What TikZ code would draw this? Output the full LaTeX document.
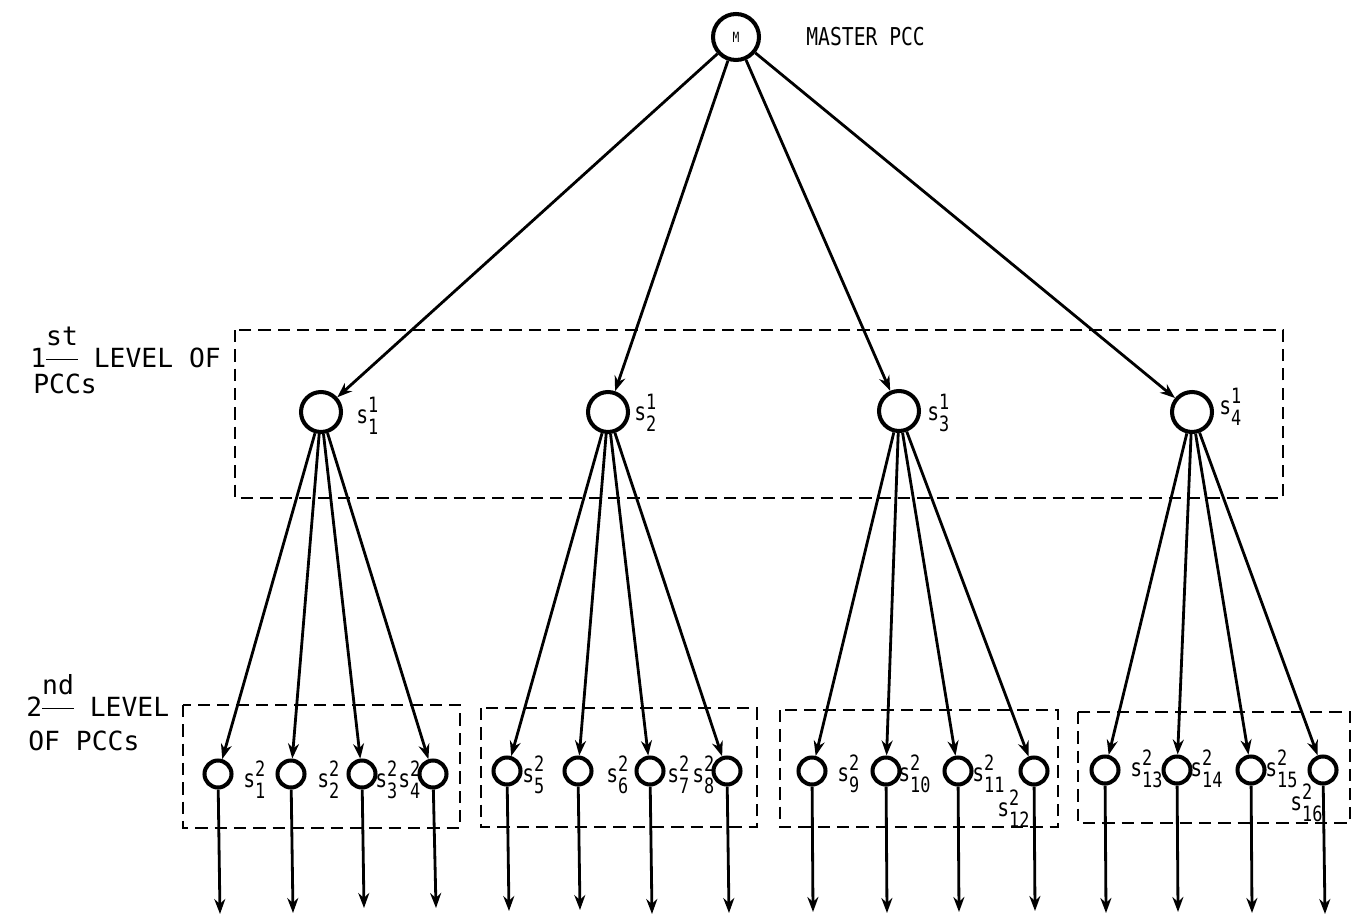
\documentclass[tikz,border=0pt]{standalone}
\usepackage{fontspec}
\setmainfont{DejaVu Sans Mono}[FakeStretch=0.8]
\newfontfamily\widefont{DejaVu Sans Mono}
\usetikzlibrary{arrows.meta}
\newcommand{\digits}{\fontsize{12}{12}\selectfont}
\newcommand{\slab}[2]{s\rlap{\raisebox{6pt}{\digits #1}}\raisebox{-6.5pt}{\digits #2}}
\newcommand{\ordsup}[1]{\raisebox{5.5pt}{\underline{\raisebox{7pt}{#1}}}}
\tikzset{
    pcc/.style={
        draw,
        circle,
        line width=2.3pt,
        inner sep=0pt
    },
    masterpcc/.style={
        pcc,
        minimum size=0.92cm,
        font=\fontsize{8}{8}\selectfont
    },
    firstpcc/.style={
        pcc,
        minimum size=0.8cm
    },
    secondpcc/.style={
        pcc,
        minimum size=0.54cm
    },
    levelbox/.style={
        draw,
        line width=1.5pt,
        dash pattern=on 7pt off 4pt
    },
    link/.style={
        -{Stealth[length=3mm,width=2.2mm]},
        line width=1.6pt
    },
    slabel/.style={
        anchor=base west,
        inner sep=0pt
    },
    sidelabel/.style={
        slabel,
        font=\widefont\fontsize{15}{17}\selectfont
    }
}
\begin{document}
\begin{tikzpicture}[
    x=0.02cm, y=-0.02cm,
    every node/.append style={font=\fontsize{14}{16}\selectfont}
]
    \useasboundingbox (0,0) rectangle (1354,922);

    % master
    \node[masterpcc] (master) at (736,37) {M};
    \node[slabel] (mastertxt) at (806,46) {MASTER PCC};

    % first level
    \draw[levelbox] (235,330) rectangle (1283,498);
    \node[sidelabel] (lvonetxt) at (30,367) {1\ordsup{st} LEVEL OF};
    \node[sidelabel] (lvonepcc) at (33,393) {PCCs};
    \node[firstpcc] (sA) at (321,412) {};
    \node[firstpcc] (sB) at (608,412) {};
    \node[firstpcc] (sC) at (899,411) {};
    \node[firstpcc] (sD) at (1192,412) {};
    \node[slabel] (labA) at (356,423) {\slab{1}{1}};
    \node[slabel] (labB) at (634,420) {\slab{1}{2}};
    \node[slabel] (labC) at (927,420) {\slab{1}{3}};
    \node[slabel] (labD) at (1219,414) {\slab{1}{4}};

    % second level
    \draw[levelbox] (183,705) rectangle (460,828);
    \draw[levelbox] (481,708) rectangle (757,827);
    \draw[levelbox] (780,710) rectangle (1058,827);
    \draw[levelbox] (1078,712) rectangle (1350,823);
    \node[sidelabel] (lvtwotxt) at (26,716) {2\ordsup{nd} LEVEL};
    \node[sidelabel] (lvtwopcc) at (28,750) {OF PCCs};

    \node[secondpcc] (s1) at (218,774) {};
    \node[secondpcc] (s2) at (291,774) {};
    \node[secondpcc] (s3) at (362,774) {};
    \node[secondpcc] (s4) at (433,774) {};
    \node[secondpcc] (s5) at (507,771) {};
    \node[secondpcc] (s6) at (578,771) {};
    \node[secondpcc] (s7) at (650,771) {};
    \node[secondpcc] (s8) at (727,771) {};
    \node[secondpcc] (s9) at (812,771) {};
    \node[secondpcc] (s10) at (886,771) {};
    \node[secondpcc] (s11) at (958,771) {};
    \node[secondpcc] (s12) at (1034,771) {};
    \node[secondpcc] (s13) at (1105,770) {};
    \node[secondpcc] (s14) at (1177,770) {};
    \node[secondpcc] (s15) at (1251,770) {};
    \node[secondpcc] (s16) at (1323,770) {};

    \node[slabel] (lab1) at (243,787) {\slab{2}{1}};
    \node[slabel] (lab2) at (317,787) {\slab{2}{2}};
    \node[slabel] (lab3) at (375,787) {\slab{2}{3}};
    \node[slabel] (lab4) at (398,787) {\slab{2}{4}};
    \node[slabel] (lab5) at (522,782) {\slab{2}{5}};
    \node[slabel] (lab6) at (606,782) {\slab{2}{6}};
    \node[slabel] (lab7) at (667,782) {\slab{2}{7}};
    \node[slabel] (lab8) at (692,782) {\slab{2}{8}};
    \node[slabel] (lab9) at (837,781) {\slab{2}{9}};
    \node[slabel] (lab10) at (898,781) {\slab{2}{10}};
    \node[slabel] (lab11) at (972,781) {\slab{2}{11}};
    \node[slabel] (lab12) at (997,816) {\slab{2}{12}};
    \node[slabel] (lab13) at (1130,776) {\slab{2}{13}};
    \node[slabel] (lab14) at (1190,776) {\slab{2}{14}};
    \node[slabel] (lab15) at (1265,776) {\slab{2}{15}};
    \node[slabel] (lab16) at (1290,810) {\slab{2}{16}};

    % outputs
    \coordinate (o1) at (220,914);
    \coordinate (o2) at (293,913);
    \coordinate (o3) at (364,908);
    \coordinate (o4) at (436,908);
    \coordinate (o5) at (509,911);
    \coordinate (o6) at (580,910);
    \coordinate (o7) at (652,914);
    \coordinate (o8) at (729,913);
    \coordinate (o9) at (813,912);
    \coordinate (o10) at (887,913);
    \coordinate (o11) at (959,912);
    \coordinate (o12) at (1035,911);
    \coordinate (o13) at (1106,913);
    \coordinate (o14) at (1178,912);
    \coordinate (o15) at (1252,913);
    \coordinate (o16) at (1325,914);

    \draw[link] (master) -- (sA);
    \draw[link] (master) -- (sB);
    \draw[link] (master) -- (sC);
    \draw[link] (master) -- (sD);

    \draw[link] (sA) -- (s1);
    \draw[link] (sA) -- (s2);
    \draw[link] (sA) -- (s3);
    \draw[link] (sA) -- (s4);
    \draw[link] (sB) -- (s5);
    \draw[link] (sB) -- (s6);
    \draw[link] (sB) -- (s7);
    \draw[link] (sB) -- (s8);
    \draw[link] (sC) -- (s9);
    \draw[link] (sC) -- (s10);
    \draw[link] (sC) -- (s11);
    \draw[link] (sC) -- (s12);
    \draw[link] (sD) -- (s13);
    \draw[link] (sD) -- (s14);
    \draw[link] (sD) -- (s15);
    \draw[link] (sD) -- (s16);

    \draw[link] (s1) -- (o1);
    \draw[link] (s2) -- (o2);
    \draw[link] (s3) -- (o3);
    \draw[link] (s4) -- (o4);
    \draw[link] (s5) -- (o5);
    \draw[link] (s6) -- (o6);
    \draw[link] (s7) -- (o7);
    \draw[link] (s8) -- (o8);
    \draw[link] (s9) -- (o9);
    \draw[link] (s10) -- (o10);
    \draw[link] (s11) -- (o11);
    \draw[link] (s12) -- (o12);
    \draw[link] (s13) -- (o13);
    \draw[link] (s14) -- (o14);
    \draw[link] (s15) -- (o15);
    \draw[link] (s16) -- (o16);
\end{tikzpicture}
\end{document}
